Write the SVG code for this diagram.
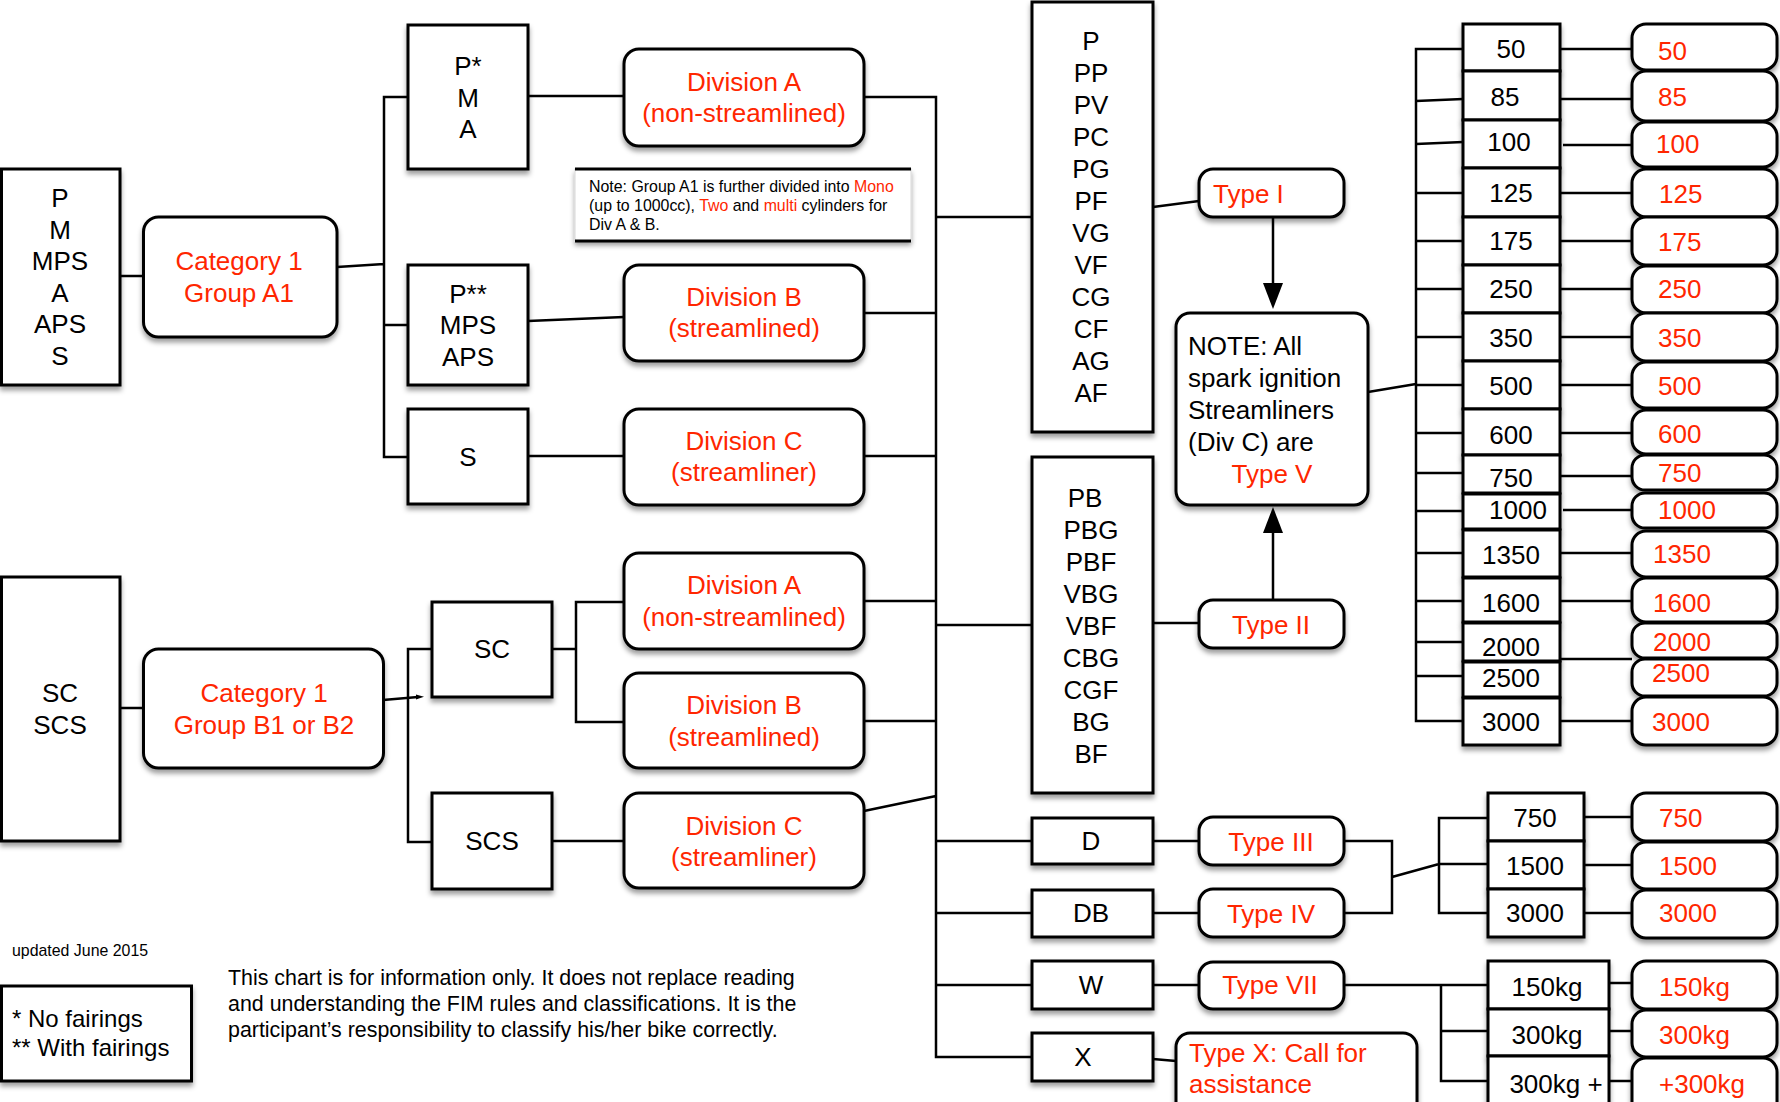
<svg xmlns="http://www.w3.org/2000/svg" width="1780" height="1102" viewBox="0 0 1780 1102">
<defs>
<filter id="sh" x="-20%" y="-20%" width="140%" height="150%">
<feDropShadow dx="0" dy="4" stdDeviation="2.5" flood-color="#000" flood-opacity="0.38"/>
</filter>
<style>
.b{fill:#fff;stroke:#000;stroke-width:3;filter:url(#sh)}
.t{font-family:"Liberation Sans",Arial,Helvetica,sans-serif;font-size:26px;fill:#000}
.c{text-anchor:middle}
.r{fill:#ff2600}
.ln{stroke:#000;stroke-width:2.5;fill:none}
.ah{fill:#000}
</style>
</defs>
<rect width="1780" height="1102" fill="#fff"/>

<g id="connectors">
<path class="ln" d="M120 276H144M337 267L384 264M408 97H384V457H408M384 325H408"/>
<path class="ln" d="M528 96H624M528 321L624 317M528 456H624"/>
<path class="ln" d="M864 97H936V1057H1032M936 217H1032M864 313H936M864 456H936M864 601H936M936 625H1032M864 721H936M864 811L936 796M936 841H1032M936 913H1032M936 985H1032"/>
<path class="ln" d="M1153 207L1199 201M1153 623H1200"/>
<path class="ln" d="M1273 217V285M1273 600V531"/>
<polygon class="ah" points="1263,283 1283,283 1273,309"/>
<polygon class="ah" points="1263,533 1283,533 1273,507"/>
<path class="ln" d="M1368 392L1416 384M1463 49H1416V721H1463M1416 101L1463 99M1416 144L1463 142M1416 193H1463M1416 241H1463M1416 289H1463M1416 337H1463M1416 385H1463M1416 433H1463M1416 473H1463M1416 511H1463M1416 553H1463M1416 601H1463M1416 642H1463M1416 676H1463"/>
<path class="ln" d="M1560 49H1632M1560 99H1632M1563 145H1632M1560 193H1632M1560 241H1632M1560 289H1632M1560 337H1632M1560 385H1632M1560 433H1632M1560 476H1632M1563 510H1632M1560 553H1632M1560 601H1632M1560 659H1632M1560 721H1632"/>
<path class="ln" d="M120 708H144M383 700L418 697"/>
<polygon class="ah" points="416,694.5 424,696.8 416,699.5"/>
<path class="ln" d="M432 649H408V842H432M552 649H576M623 602H576V722H623M552 841H623"/>
<path class="ln" d="M1153 841H1199M1153 913H1199M1153 985H1199M1153 1059L1176 1061"/>
<path class="ln" d="M1344 841H1392V913H1344M1392 877L1439 864M1488 818H1439V913H1488M1439 864H1488M1584 817H1632M1584 865H1632M1584 913H1632"/>
<path class="ln" d="M1344 985H1488M1441 985V1081H1488M1441 1031H1488M1609 983H1632M1609 1031H1632M1609 1081H1632"/>
</g>

<g id="n-left1"><rect class="b" x="1.5" y="169" width="118.5" height="216"/>
<text class="t c" x="60"><tspan x="60" y="207">P</tspan><tspan x="60" y="238.6">M</tspan><tspan x="60" y="270.2">MPS</tspan><tspan x="60" y="301.8">A</tspan><tspan x="60" y="333.4">APS</tspan><tspan x="60" y="365">S</tspan></text></g>

<g id="n-catA1"><rect class="b" x="143.5" y="217" width="193.5" height="120" rx="15"/>
<text class="t c r"><tspan x="239" y="270">Category 1</tspan><tspan x="239" y="302">Group A1</tspan></text></g>

<g id="n-pma"><rect class="b" x="408" y="25" width="120" height="144"/>
<text class="t c"><tspan x="468" y="75">P*</tspan><tspan x="468" y="106.5">M</tspan><tspan x="468" y="138">A</tspan></text></g>

<g id="n-pss"><rect class="b" x="408" y="265" width="120" height="120"/>
<text class="t c"><tspan x="468" y="302.5">P**</tspan><tspan x="468" y="334">MPS</tspan><tspan x="468" y="365.5">APS</tspan></text></g>

<g id="n-s"><rect class="b" x="408" y="409" width="120" height="95"/>
<text class="t c" x="468" y="465.5">S</text></g>

<g id="n-divA1"><rect class="b" x="624" y="49" width="240" height="97" rx="15"/>
<text class="t c r"><tspan x="744" y="91">Division A</tspan><tspan x="744" y="122">(non-streamlined)</tspan></text></g>

<g id="n-note"><rect x="575" y="169" width="336" height="72" fill="#fff" stroke="#d8d8d8" stroke-width="1" filter="url(#sh)"/>
<path d="M575 169H911M575 241H911" stroke="#000" stroke-width="3"/>
<text class="t" style="font-size:15.9px"><tspan x="589" y="192">Note: Group A1 is further divided into <tspan class="r">Mono</tspan></tspan><tspan x="589" y="211">(up to 1000cc), <tspan class="r">Two</tspan> and <tspan class="r">multi</tspan> cylinders for</tspan><tspan x="589" y="229.5">Div A &amp; B.</tspan></text></g>

<g id="n-divB1"><rect class="b" x="624" y="265" width="240" height="96" rx="15"/>
<text class="t c r"><tspan x="744" y="306">Division B</tspan><tspan x="744" y="337">(streamlined)</tspan></text></g>

<g id="n-divC1"><rect class="b" x="624" y="409" width="240" height="96" rx="15"/>
<text class="t c r"><tspan x="744" y="450">Division C</tspan><tspan x="744" y="481">(streamliner)</tspan></text></g>

<g id="n-left2"><rect class="b" x="1.5" y="577" width="118.5" height="264"/>
<text class="t c"><tspan x="60" y="702">SC</tspan><tspan x="60" y="734">SCS</tspan></text></g>

<g id="n-catB"><rect class="b" x="143.5" y="649" width="240" height="119" rx="15"/>
<text class="t c r"><tspan x="264" y="702">Category 1</tspan><tspan x="264" y="734">Group B1 or B2</tspan></text></g>

<g id="n-sc"><rect class="b" x="432" y="602" width="120" height="95"/>
<text class="t c" x="492" y="658">SC</text></g>

<g id="n-scs"><rect class="b" x="432" y="793" width="120" height="96"/>
<text class="t c" x="492" y="850">SCS</text></g>

<g id="n-divA2"><rect class="b" x="624" y="553" width="240" height="96" rx="15"/>
<text class="t c r"><tspan x="744" y="594">Division A</tspan><tspan x="744" y="626">(non-streamlined)</tspan></text></g>

<g id="n-divB2"><rect class="b" x="624" y="673" width="240" height="95" rx="15"/>
<text class="t c r"><tspan x="744" y="714">Division B</tspan><tspan x="744" y="746">(streamlined)</tspan></text></g>

<g id="n-divC2"><rect class="b" x="624" y="793" width="240" height="95" rx="15"/>
<text class="t c r"><tspan x="744" y="835">Division C</tspan><tspan x="744" y="866">(streamliner)</tspan></text></g>

<g id="n-pbox"><rect class="b" x="1032" y="2" width="121" height="430"/>
<text class="t c"><tspan x="1091" y="50">P</tspan><tspan x="1091" y="82">PP</tspan><tspan x="1091" y="114">PV</tspan><tspan x="1091" y="146">PC</tspan><tspan x="1091" y="178">PG</tspan><tspan x="1091" y="210">PF</tspan><tspan x="1091" y="242">VG</tspan><tspan x="1091" y="274">VF</tspan><tspan x="1091" y="306">CG</tspan><tspan x="1091" y="338">CF</tspan><tspan x="1091" y="370">AG</tspan><tspan x="1091" y="402">AF</tspan></text></g>

<g id="n-pbbox"><rect class="b" x="1032" y="457" width="121" height="336"/>
<text class="t c"><tspan x="1085" y="507">PB</tspan><tspan x="1091" y="539">PBG</tspan><tspan x="1091" y="571">PBF</tspan><tspan x="1091" y="603">VBG</tspan><tspan x="1091" y="635">VBF</tspan><tspan x="1091" y="667">CBG</tspan><tspan x="1091" y="699">CGF</tspan><tspan x="1091" y="731">BG</tspan><tspan x="1091" y="763">BF</tspan></text></g>

<g id="n-d"><rect class="b" x="1032" y="818" width="121" height="46"/><text class="t c" x="1091" y="850">D</text></g>
<g id="n-db"><rect class="b" x="1032" y="890" width="121" height="47"/><text class="t c" x="1091" y="922">DB</text></g>
<g id="n-w"><rect class="b" x="1032" y="961" width="121" height="48"/><text class="t c" x="1091" y="994">W</text></g>
<g id="n-x"><rect class="b" x="1032" y="1033" width="121" height="48"/><text class="t c" x="1083" y="1066">X</text></g>

<g id="n-type1"><rect class="b" x="1199" y="169" width="145" height="48" rx="14"/><text class="t r" x="1213" y="203">Type I</text></g>

<g id="n-note5"><rect class="b" x="1176" y="313" width="192" height="192" rx="14"/>
<text class="t"><tspan x="1188" y="355">NOTE: All</tspan><tspan x="1188" y="387">spark ignition</tspan><tspan x="1188" y="419">Streamliners</tspan><tspan x="1188" y="451">(Div C) are</tspan></text>
<text class="t c r" x="1272" y="483">Type V</text></g>

<g id="n-type2"><rect class="b" x="1199" y="600" width="145" height="48" rx="14"/><text class="t c r" x="1271" y="634">Type II</text></g>
<g id="n-type3"><rect class="b" x="1199" y="817" width="145" height="48" rx="14"/><text class="t c r" x="1271" y="851">Type III</text></g>
<g id="n-type4"><rect class="b" x="1199" y="889" width="145" height="48" rx="14"/><text class="t c r" x="1271" y="923">Type IV</text></g>
<g id="n-type7"><rect class="b" x="1199" y="962" width="145" height="47" rx="14"/><text class="t c r" x="1270" y="994">Type VII</text></g>
<g id="n-typeX"><rect class="b" x="1176" y="1033" width="241" height="90" rx="14"/>
<text class="t r"><tspan x="1189" y="1062">Type X: Call for</tspan><tspan x="1189" y="1093">assistance</tspan></text></g>

<g id="n-cc">
<rect class="b" x="1463" y="24" width="97" height="47"/>
<rect class="b" x="1463" y="71" width="97" height="49"/>
<rect class="b" x="1463" y="120" width="97" height="48"/>
<rect class="b" x="1463" y="168" width="97" height="49"/>
<rect class="b" x="1463" y="217" width="97" height="48"/>
<rect class="b" x="1463" y="265" width="97" height="48"/>
<rect class="b" x="1463" y="313" width="97" height="48"/>
<rect class="b" x="1463" y="361" width="97" height="48"/>
<rect class="b" x="1463" y="409" width="97" height="46"/>
<rect class="b" x="1463" y="455" width="97" height="38"/>
<rect class="b" x="1463" y="494" width="97" height="35"/>
<rect class="b" x="1463" y="530" width="97" height="47"/>
<rect class="b" x="1463" y="578" width="97" height="44"/>
<rect class="b" x="1463" y="623" width="97" height="38"/>
<rect class="b" x="1463" y="662" width="97" height="35"/>
<rect class="b" x="1463" y="698" width="97" height="47"/>
<text class="t c"><tspan x="1511" y="58">50</tspan><tspan x="1505" y="106">85</tspan><tspan x="1509" y="151">100</tspan><tspan x="1511" y="202">125</tspan><tspan x="1511" y="250">175</tspan><tspan x="1511" y="298">250</tspan><tspan x="1511" y="347">350</tspan><tspan x="1511" y="395">500</tspan><tspan x="1511" y="444">600</tspan><tspan x="1511" y="487">750</tspan><tspan x="1518" y="519">1000</tspan><tspan x="1511" y="564">1350</tspan><tspan x="1511" y="612">1600</tspan><tspan x="1511" y="656">2000</tspan><tspan x="1511" y="687">2500</tspan><tspan x="1511" y="731">3000</tspan></text>
</g>

<g id="n-cc-red">
<rect class="b" x="1632" y="24" width="145" height="46" rx="14"/>
<rect class="b" x="1632" y="71" width="145" height="50" rx="14"/>
<rect class="b" x="1632" y="122" width="145" height="45" rx="14"/>
<rect class="b" x="1632" y="169" width="145" height="48" rx="14"/>
<rect class="b" x="1632" y="217" width="145" height="48" rx="14"/>
<rect class="b" x="1632" y="266" width="145" height="47" rx="14"/>
<rect class="b" x="1632" y="313" width="145" height="48" rx="14"/>
<rect class="b" x="1632" y="362" width="145" height="46" rx="14"/>
<rect class="b" x="1632" y="410" width="145" height="44" rx="14"/>
<rect class="b" x="1632" y="455" width="145" height="35" rx="13"/>
<rect class="b" x="1632" y="493" width="145" height="35" rx="13"/>
<rect class="b" x="1632" y="531" width="145" height="46" rx="14"/>
<rect class="b" x="1632" y="578" width="145" height="44" rx="14"/>
<rect class="b" x="1632" y="623" width="145" height="35" rx="13"/>
<rect class="b" x="1632" y="659" width="145" height="37" rx="13"/>
<rect class="b" x="1632" y="697" width="145" height="48" rx="14"/>
<text class="t r"><tspan x="1658" y="60">50</tspan><tspan x="1658" y="106">85</tspan><tspan x="1656" y="153">100</tspan><tspan x="1659" y="203">125</tspan><tspan x="1658" y="251">175</tspan><tspan x="1658" y="298">250</tspan><tspan x="1658" y="347">350</tspan><tspan x="1658" y="395">500</tspan><tspan x="1658" y="443">600</tspan><tspan x="1658" y="482">750</tspan><tspan x="1658" y="519">1000</tspan><tspan x="1653" y="563">1350</tspan><tspan x="1653" y="612">1600</tspan><tspan x="1653" y="651">2000</tspan><tspan x="1652" y="682">2500</tspan><tspan x="1652" y="731">3000</tspan></text>
</g>

<g id="n-diesel">
<rect class="b" x="1488" y="793" width="96" height="48"/>
<rect class="b" x="1488" y="841" width="96" height="48"/>
<rect class="b" x="1488" y="889" width="96" height="48"/>
<text class="t c"><tspan x="1535" y="827">750</tspan><tspan x="1535" y="875">1500</tspan><tspan x="1535" y="922">3000</tspan></text>
</g>
<g id="n-diesel-red">
<rect class="b" x="1632" y="793" width="145" height="48" rx="14"/>
<rect class="b" x="1632" y="842" width="145" height="47" rx="14"/>
<rect class="b" x="1632" y="890" width="145" height="48" rx="14"/>
<text class="t r"><tspan x="1659" y="827">750</tspan><tspan x="1659" y="875">1500</tspan><tspan x="1659" y="922">3000</tspan></text>
</g>

<g id="n-weight">
<rect class="b" x="1488" y="961" width="121" height="48"/>
<rect class="b" x="1488" y="1009" width="121" height="47"/>
<rect class="b" x="1488" y="1056" width="121" height="60"/>
<text class="t c"><tspan x="1547" y="996">150kg</tspan><tspan x="1547" y="1044">300kg</tspan><tspan x="1556" y="1093">300kg +</tspan></text>
</g>
<g id="n-weight-red">
<rect class="b" x="1632" y="961" width="145" height="48" rx="14"/>
<rect class="b" x="1632" y="1010" width="145" height="47" rx="14"/>
<rect class="b" x="1632" y="1058" width="145" height="60" rx="14"/>
<text class="t r"><tspan x="1659" y="996">150kg</tspan><tspan x="1659" y="1044">300kg</tspan><tspan x="1659" y="1093">+300kg</tspan></text>
</g>

<g id="n-updated"><text class="t" style="font-size:15.9px" x="12" y="956">updated June 2015</text></g>

<g id="n-legend"><rect class="b" x="1.5" y="986" width="190" height="95"/>
<text class="t" style="font-size:24px"><tspan x="12" y="1027">* No fairings</tspan><tspan x="12" y="1056">** With fairings</tspan></text></g>

<g id="n-disclaimer"><text class="t" style="font-size:21.4px"><tspan x="228" y="985">This chart is for information only. It does not replace reading</tspan><tspan x="228" y="1011">and understanding the FIM rules and classifications. It is the</tspan><tspan x="228" y="1037">participant’s responsibility to classify his/her bike correctly.</tspan></text></g>
</svg>
